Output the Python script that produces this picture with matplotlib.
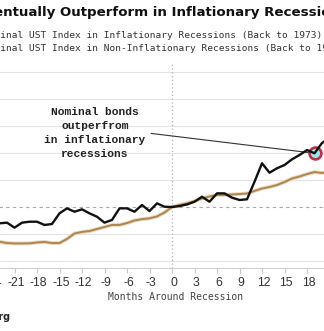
import matplotlib
matplotlib.use('Agg')
import matplotlib.pyplot as plt
import matplotlib.transforms as mtransforms
from matplotlib.lines import Line2D

# Months around the start of the recession
months = list(range(-24, 22))

# Nominal UST index, inflationary recessions (rebased to 100 at month 0)
ust_inflationary = [98.80, 98.79, 98.84, 98.47, 98.84, 98.91, 98.91, 98.67, 98.74,
                    99.53, 99.90, 99.65, 99.83, 99.53, 99.28, 98.84, 99.04, 99.90,
                    99.90, 99.65, 100.15, 99.70, 100.27, 100.02, 100.00, 100.07,
                    100.19, 100.39, 100.76, 100.39, 101.01, 101.01, 100.69, 100.52,
                    100.57, 101.87, 103.24, 102.54, 102.87, 103.11, 103.53, 103.85,
                    104.22, 103.98, 104.74, 105.10]

# Nominal UST index, non-inflationary recessions
ust_non_inflationary = [97.48, 97.43, 97.33, 97.30, 97.30, 97.31, 97.37, 97.41, 97.33,
                        97.33, 97.63, 98.04, 98.15, 98.22, 98.37, 98.52, 98.67, 98.67,
                        98.81, 99.00, 99.10, 99.16, 99.30, 99.59, 100.00, 100.15,
                        100.27, 100.44, 100.63, 100.78, 100.89, 100.89, 100.93, 100.96,
                        101.00, 101.19, 101.37, 101.48, 101.63, 101.85, 102.11, 102.26,
                        102.44, 102.59, 102.52, 102.59]

x_ticks = list(range(-24, 25, 3))
grid_levels = [96, 98, 102, 104, 106, 108, 110]
highlight_month = 19

title = 'Nominal Bonds Eventually Outperform in Inflationary Recessions'
legend_labels = ['Nominal UST Index in Inflationary Recessions (Back to 1973)',
                 'Nominal UST Index in Non-Inflationary Recessions (Back to 1953)']
note = 'Nominal bonds\noutperfrom\nin inflationary\nrecessions'

W, H = 324, 331
fig = plt.figure(figsize=(W / 100, H / 100), dpi=100)
fig.patch.set_facecolor('white')

# plot area is wider than the image: month 0 sits at x=172px, 7.5px per month
ax = fig.add_axes([-15.5 / W, (H - 267.75) / H, 375 / W, 205.2 / H])
ax.set_xlim(-25, 25)
ax.set_ylim(95.5, 110.7)

for v in grid_levels:
    ax.axhline(v, color='#e3e3e3', lw=0.8, zorder=0)
ax.axhline(100, color='#a8a8a8', lw=0.8, ls=(0, (3, 3)), zorder=1)
ax.axvline(0, color='#b0b0b0', lw=0.9, ls=(0, (1, 2)), zorder=1)

# tan line with a soft halo
ax.plot(months, ust_non_inflationary, color='#ead9bd', lw=2.8, zorder=2,
        solid_capstyle='round')
ax.plot(months, ust_non_inflationary, color='#ad8652', lw=1.4, zorder=3)

hi = months.index(highlight_month)
ax.plot(highlight_month, ust_inflationary[hi], 'o', ms=8.5, mfc='#9ee6e2',
        mec='#b8304c', mew=1.9, zorder=4)
ax.plot(months, ust_inflationary, color='#111111', lw=1.7, zorder=5)

ax.annotate(note, xy=(highlight_month, ust_inflationary[hi]),
            xytext=(-10.27, 105.5), textcoords='data',
            ha='center', va='center', family='Liberation Mono',
            fontweight='bold', fontsize=8.1, linespacing=1.5, color='#222222',
            arrowprops=dict(arrowstyle='-', color='#333333', lw=0.8,
                            relpos=(1.0, 0.5), shrinkA=2, shrinkB=4))

for side in ['left', 'right', 'top']:
    ax.spines[side].set_visible(False)
ax.spines['bottom'].set_color('#d0d0d0')
ax.set_yticks([])
ax.set_xticks(x_ticks)
ax.set_xticklabels([str(t) for t in x_ticks])
ax.tick_params(axis='x', length=3.6, width=0.8, color='#c8c8c8', pad=3,
               labelsize=8.7, labelcolor='#333333')
nudge = mtransforms.ScaledTranslation(0.015, 0, fig.dpi_scale_trans)
for lbl in ax.get_xticklabels():
    lbl.set_family('Liberation Sans')
    lbl.set_transform(lbl.get_transform() + nudge)

ax.set_xlabel('Months Around Recession', family='DejaVu Sans Mono',
              fontsize=7, color='#444444')
ax.xaxis.set_label_coords(0.509, -0.118)

fig.text(-0.438, 0.961, title, fontsize=9.6, fontweight='bold',
         color='#111111', ha='left', va='center')

handles = [Line2D([], [], color='#111111', lw=1.7),
           Line2D([], [], color='#ad8652', lw=1.7)]
fig.legend(handles, legend_labels, loc='upper left',
           bbox_to_anchor=(-40.6 / W, 1 - 30.5 / H), frameon=False,
           prop={'family': 'DejaVu Sans Mono', 'size': 6.8},
           labelcolor='#333333', handlelength=2, handletextpad=0.5,
           borderpad=0, borderaxespad=0, labelspacing=0.5)

fig.text(10.5 / W, 1 - 317 / H, 'Source: Bloomberg', ha='right', va='center',
         fontsize=7, fontweight='bold', color='#222222')

fig.savefig('out.png', dpi=100)
